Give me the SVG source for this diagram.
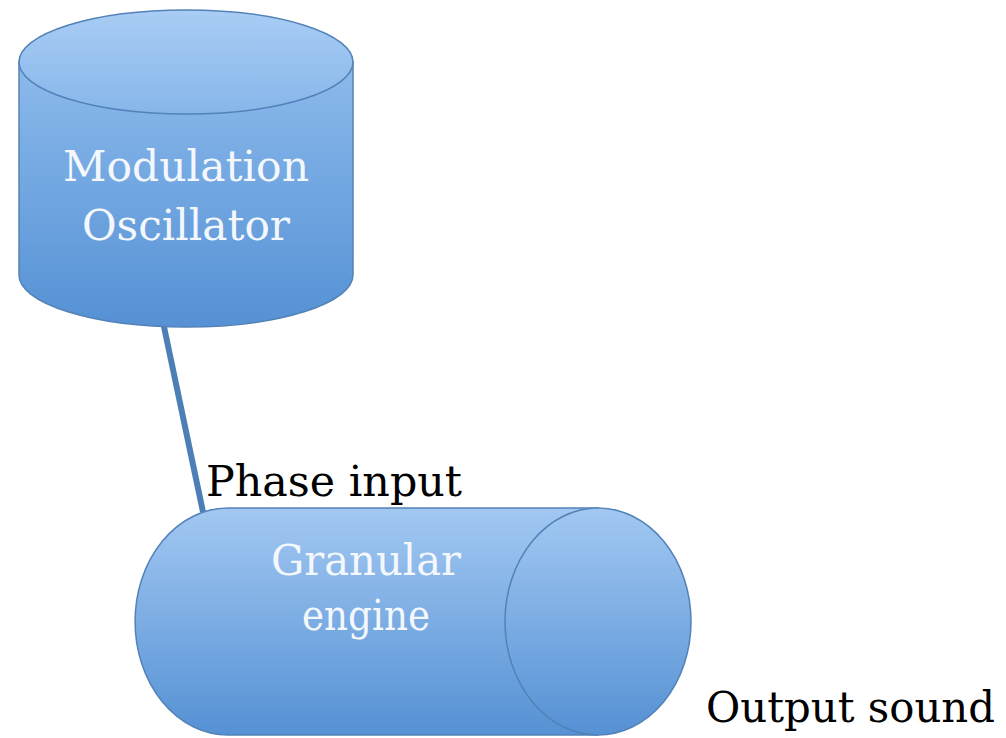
<svg xmlns="http://www.w3.org/2000/svg" width="1006" height="738" viewBox="0 0 1006 738">
<defs>
<linearGradient id="gTop" x1="0" y1="0" x2="0" y2="1">
<stop offset="0" stop-color="#a9cdf4"/>
<stop offset="1" stop-color="#86b6ea"/>
</linearGradient>
<linearGradient id="gBody" x1="0" y1="0" x2="0" y2="1">
<stop offset="0" stop-color="#8cbaec"/>
<stop offset="1" stop-color="#5591d4"/>
</linearGradient>
<linearGradient id="gH" x1="0" y1="0" x2="0" y2="1">
<stop offset="0" stop-color="#a2c8f2"/>
<stop offset="1" stop-color="#5591d4"/>
</linearGradient>
</defs>
<style>
.shape{stroke:#5382b8;stroke-width:1.5}
.lbl{font-family:"DejaVu Serif","Liberation Serif",serif;fill:#f4f8fd;text-anchor:middle}
.txt{font-family:"DejaVu Serif","Liberation Serif",serif;fill:#000}
.conn{stroke:#4c7fb6;stroke-width:6;fill:none}
</style>
<rect width="1006" height="738" fill="#fff"/>
<g id="connectors">
<line class="conn" x1="163" y1="322" x2="203" y2="512"/>
</g>
<g id="modulation-oscillator">
<path class="shape" fill="url(#gBody)" d="M19 62 V275 A167 52 0 0 0 353 275 V62 Z"/>
<ellipse class="shape" fill="url(#gTop)" cx="186" cy="62" rx="167" ry="52"/>
<text class="lbl" x="186" y="181" font-size="43" textLength="246" lengthAdjust="spacingAndGlyphs">Modulation</text>
<text class="lbl" x="186" y="240" font-size="43" textLength="208" lengthAdjust="spacingAndGlyphs">Oscillator</text>
</g>
<g id="granular-engine">
<path class="shape" fill="url(#gH)" d="M228 508 H598 V735 H228 A93 113.5 0 0 1 228 508 Z"/>
<ellipse class="shape" fill="url(#gH)" cx="598" cy="621.5" rx="93" ry="113.5"/>
<text class="lbl" x="366" y="575" font-size="42" textLength="190" lengthAdjust="spacingAndGlyphs">Granular</text>
<text class="lbl" x="366" y="630" font-size="42" textLength="128" lengthAdjust="spacingAndGlyphs">engine</text>
</g>
<g id="phase-input">
<text class="txt" x="206" y="496" font-size="42" textLength="256" lengthAdjust="spacingAndGlyphs">Phase input</text>
</g>
<g id="output-sound">
<text class="txt" x="706" y="722" font-size="42" textLength="289" lengthAdjust="spacingAndGlyphs">Output sound</text>
</g>
</svg>
